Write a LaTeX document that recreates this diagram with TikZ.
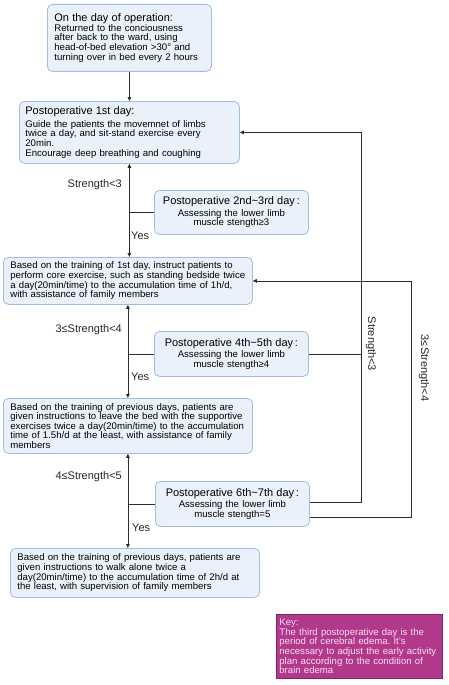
\documentclass[tikz,border=0pt]{standalone}
\usepackage{fontspec}
\setmainfont{Liberation Sans}
\usetikzlibrary{arrows.meta}
\definecolor{boxfill}{RGB}{234,241,251}
\definecolor{boxline}{RGB}{160,190,228}
\definecolor{keyfill}{RGB}{178,56,140}
\definecolor{keyline}{RGB}{125,40,100}
\definecolor{keytext}{RGB}{248,222,240}
\definecolor{wire}{RGB}{45,45,45}
\newcommand{\bodysize}{\fontsize{9.6}{9.6}\selectfont}
\newcommand{\headsize}{\fontsize{11}{12}\selectfont}
\frenchspacing
\begin{document}
\begin{tikzpicture}[x=1pt, y=-1pt, >={Triangle[length=4pt,width=3.6pt]},
	stagebox/.style={draw=boxline, fill=boxfill, line width=0.8pt, rounded corners=5pt,
		anchor=north west, align=left, inner xsep=7pt, inner ysep=2pt, font=\bodysize},
	checkbox/.style={stagebox, align=center, inner xsep=3pt},
	lbl/.style={inner sep=1pt, font=\headsize, text=black!85},
	wires/.style={draw=wire, line width=0.8pt}]
	\useasboundingbox (0,0) rectangle (449,685);
	% Stages of training
	\node[stagebox, text width=150pt, minimum height=67pt] (day0) at (47,4)
		{{\headsize On the day of operation:}\\[0pt]
		Returned to the conciousness\\ after back to the ward, using\\
		head-of-bed elevation >30° and\\ turning over in bed every 2 hours};
	\node[stagebox, text width=208pt, inner xsep=6pt, minimum height=62pt] (day1) at (19,101)
		{{\headsize Postoperative 1st day:}\\[3pt]
		Guide the patients the movemnet of limbs\\ twice a day, and sit-stand exercise every\\
		20min.\\ Encourage deep breathing and coughing};
	\node[stagebox, text width=235pt, minimum height=47pt] (train1) at (3,257)
		{Based on the training of 1st day, instruct patients to\\
		perform core exercise, such as standing bedside twice\\
		a day(20min/time) to the accumulation time of 1h/d,\\
		with assistance of family members};
	\node[stagebox, text width=235pt, minimum height=55pt] (train2) at (3,398)
		{Based on the training of previous days, patients are\\
		given instructions to leave the bed with the supportive\\
		exercises twice a day(20min/time) to the accumulation\\
		time of 1.5h/d at the least, with assistance of family\\ members};
	\node[stagebox, text width=235pt, minimum height=49pt] (train3) at (10,548)
		{Based on the training of previous days, patients are\\
		given instructions to walk alone twice a\\
		day(20min/time) to the accumulation time of 2h/d at\\
		the least, with supervision of family members};
	% Assessments
	\node[checkbox, text width=148pt, minimum height=44pt] (ass1) at (154,190)
		{{\headsize Postoperative 2nd\textasciitilde 3rd day\,:}\\[2pt]
		Assessing the lower limb\\ muscle stength≥3};
	\node[checkbox, text width=148pt, minimum height=45pt] (ass2) at (154,331)
		{{\headsize Postoperative 4th\textasciitilde 5th day\,:}\\[2pt]
		Assessing the lower limb\\ muscle stength≥4};
	\node[checkbox, text width=148pt, minimum height=45pt] (ass3) at (155,481)
		{{\headsize Postoperative 6th\textasciitilde 7th day\,:}\\[2pt]
		Assessing the lower limb\\ muscle stength=5};
	% Key
	\node[draw=keyline, fill=keyfill, line width=0.8pt, anchor=north west, align=left,
		text width=160pt, minimum height=64pt, inner xsep=3pt, inner ysep=2pt,
		text=keytext, font=\bodysize] (key) at (276,614)
		{Key:\\ The third postoperative day is the\\ period of cerebral edema. It's\\
		necessary to adjust the early activity\\ plan according to the condition of\\ brain edema};
	% Main line
	\draw[wires, ->] (day0.south) -- (day1.north);
	\draw[wires, <->] (day1.south) -- (day1.south |- train1.north);
	\draw[wires, <->] (train1.south) -- (train1.south |- train2.north);
	\draw[wires, <->] (train2.south) -- (train2.south |- train3.north);
	\draw[wires] (ass1.west) -- (ass1.west -| day1.south);
	\draw[wires] (ass2.west) -- (ass2.west -| train1.south);
	\draw[wires] (ass3.west) -- (ass3.west -| train2.south);
	\node[lbl, anchor=east] (low1) at (123,185) {Strength<3};
	\node[lbl, anchor=west] (yes1) at (130,236) {Yes};
	\node[lbl, anchor=east] (low2) at (123,330) {3≤Strength<4};
	\node[lbl, anchor=west] (yes2) at (130,377) {Yes};
	\node[lbl, anchor=east] (low3) at (123,477) {4≤Strength<5};
	\node[lbl, anchor=west] (yes3) at (131,528) {Yes};
	% Back loops
	\coordinate (upA) at (361,0);
	\coordinate (upB) at (411,0);
	\draw[wires, ->] ([yshift=2pt]ass3.east) -- ([yshift=2pt]ass3.east -| upA)
		-- (day1.east -| upA) -- (day1.east);
	\draw[wires] (ass2.east) -- (ass2.east -| upA);
	\draw[wires, ->] ([yshift=-13pt]ass3.east) -- ([yshift=-13pt]ass3.east -| upB)
		-- (train1.east -| upB) -- (train1.east);
	\node[lbl, rotate=-90] (backA) at (371,344) {Strength<3};
	\node[lbl, rotate=-90] (backB) at (424,368) {3≤Strength<4};
\end{tikzpicture}
\end{document}
